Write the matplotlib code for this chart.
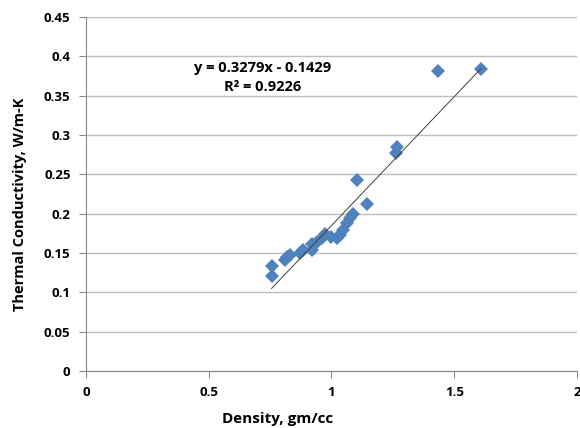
import matplotlib
matplotlib.use("Agg")
import matplotlib.pyplot as plt
import numpy as np

density = [0.756, 0.756, 0.811, 0.82, 0.831, 0.872, 0.885, 0.919, 0.919, 0.94,
           0.96, 0.974, 1.0, 1.021, 1.035, 1.047, 1.062, 1.075, 1.089, 1.102,
           1.143, 1.263, 1.267, 1.434, 1.609]
conductivity = [0.134, 0.121, 0.141, 0.145, 0.148, 0.150, 0.154, 0.154, 0.161, 0.164,
                0.169, 0.174, 0.171, 0.169, 0.173, 0.179, 0.188, 0.194, 0.200, 0.243,
                0.213, 0.277, 0.285, 0.381, 0.384]
slope = 0.3279
intercept = -0.1429
r2 = 0.9226
xticks = [0, 0.5, 1, 1.5, 2]
yticks = [0, 0.05, 0.1, 0.15, 0.2, 0.25, 0.3, 0.35, 0.4, 0.45]
ytick_labels = ["0", "0.05", "0.1", "0.15", "0.2", "0.25", "0.3", "0.35", "0.4", "0.45"]
xtick_labels = ["0", "0.5", "1", "1.5", "2"]

plt.rcParams['font.family'] = ['Open Sans', 'DejaVu Sans']

fig = plt.figure(figsize=(5.8, 4.28), dpi=100)
ax = fig.add_axes([0.148, 0.133, 0.847, 0.827])

ax.set_xlim(0, 2)
ax.set_ylim(0, 0.45)
ax.set_xticks(xticks)
ax.set_xticklabels(xtick_labels, fontweight='bold', fontsize=9.5)
ax.set_yticks(yticks)
ax.set_yticklabels(ytick_labels, fontweight='bold', fontsize=9.5)
ax.grid(axis='y', color='#BEBEBE', linewidth=1.0)
ax.set_axisbelow(True)
for s in ['top', 'right']:
    ax.spines[s].set_visible(False)
for s in ['left', 'bottom']:
    ax.spines[s].set_color('#888888')
ax.tick_params(axis='both', direction='out', length=5, color='#888888', pad=6)

xs = np.array([min(density), max(density)])
ax.plot(xs, slope * xs + intercept, color='#404040', linewidth=0.7, zorder=3)
ax.plot(density, conductivity, linestyle='none', marker='D', markersize=7,
        color='#4F81BD', markeredgewidth=0, zorder=2)

ax.text(0.721, 0.385, f"y = {slope}x - {-intercept}", ha='center', va='center',
        fontsize=10.5, fontweight='bold')
ax.text(0.721, 0.361, f"R² = {r2}", ha='center', va='center',
        fontsize=10.5, fontweight='bold')

ax.set_xlabel("Density, gm/cc", fontweight='bold', fontsize=11, labelpad=6)
ax.xaxis.set_label_coords(0.39, -0.115)
ax.set_ylabel("Thermal Conductivity, W/m-K", fontweight='bold', fontsize=10.5, labelpad=10)
ax.yaxis.set_label_coords(-0.12, 0.47)

fig.savefig("out.png", dpi=100)
